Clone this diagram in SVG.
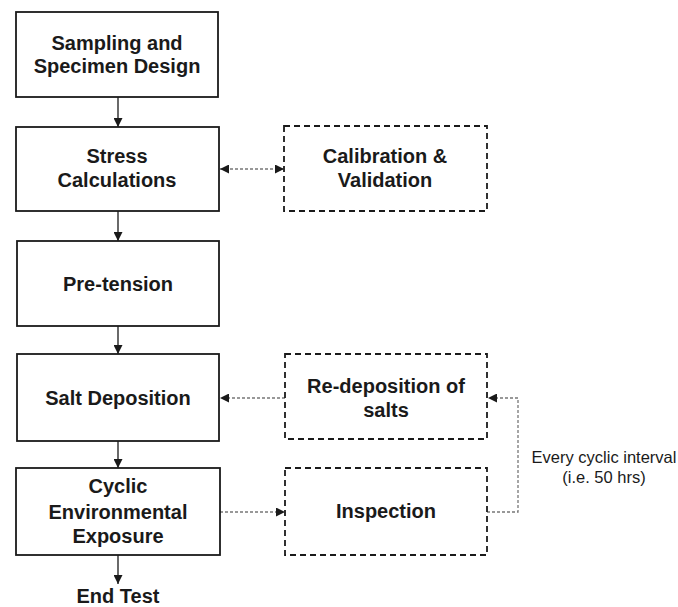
<svg xmlns="http://www.w3.org/2000/svg" width="678" height="607" viewBox="0 0 678 607">
<style>
.box{fill:#fff;stroke:#1a1a1a;stroke-width:1.8}
.dbox{fill:#fff;stroke:#1a1a1a;stroke-width:1.8;stroke-dasharray:6,4}
.t{font-family:"Liberation Sans",Arial,sans-serif;font-weight:bold;font-size:20px;fill:#1a1a1a;text-anchor:middle}
.n{font-family:"Liberation Sans",Arial,sans-serif;font-size:16.5px;fill:#1a1a1a;text-anchor:middle}
.solid{stroke:#1a1a1a;stroke-width:1.3;fill:none}
.dot{stroke:#777;stroke-width:1.3;stroke-dasharray:3,2;fill:none}
</style>
<defs>
<marker id="ah" viewBox="0 0 10 10" refX="10" refY="5" markerWidth="9" markerHeight="9" markerUnits="userSpaceOnUse" orient="auto-start-reverse">
<path d="M0,0 L10,5 L0,10 Z" fill="#1a1a1a"/>
</marker>
</defs>
<rect width="678" height="607" fill="#fff"/>
<g id="connectors">
<line class="solid" x1="118" y1="97" x2="118" y2="127" marker-end="url(#ah)"/>
<line class="solid" x1="118" y1="211" x2="118" y2="241" marker-end="url(#ah)"/>
<line class="solid" x1="118" y1="326" x2="118" y2="354" marker-end="url(#ah)"/>
<line class="solid" x1="118" y1="441" x2="118" y2="468" marker-end="url(#ah)"/>
<line class="solid" x1="118" y1="555" x2="118" y2="584" marker-end="url(#ah)"/>
<line class="dot" x1="220" y1="169" x2="284" y2="169" marker-start="url(#ah)" marker-end="url(#ah)"/>
<line class="dot" x1="285" y1="398" x2="220" y2="398" marker-end="url(#ah)"/>
<line class="dot" x1="220" y1="512" x2="285" y2="512" marker-end="url(#ah)"/>
<polyline class="dot" points="487,512 518,512 518,398 488,398" marker-end="url(#ah)"/>
</g>
<g id="sampling">
<rect class="box" x="16" y="12" width="202" height="85"/>
<text class="t" x="117" y="50">Sampling and</text>
<text class="t" x="117" y="73">Specimen Design</text>
</g>
<g id="stress">
<rect class="box" x="16" y="127" width="203" height="84"/>
<text class="t" x="117" y="163">Stress</text>
<text class="t" x="117" y="187">Calculations</text>
</g>
<g id="calibration">
<rect class="dbox" x="284" y="126" width="203" height="85"/>
<text class="t" x="385" y="163">Calibration &amp;</text>
<text class="t" x="385" y="187">Validation</text>
</g>
<g id="pretension">
<rect class="box" x="17" y="241" width="202" height="85"/>
<text class="t" x="118" y="291">Pre-tension</text>
</g>
<g id="salt">
<rect class="box" x="17" y="354" width="202" height="87"/>
<text class="t" x="118" y="405">Salt Deposition</text>
</g>
<g id="redeposition">
<rect class="dbox" x="285" y="354" width="202" height="85"/>
<text class="t" x="386" y="393">Re-deposition of</text>
<text class="t" x="386" y="417">salts</text>
</g>
<g id="cyclic">
<rect class="box" x="16" y="468" width="204" height="87"/>
<text class="t" x="118" y="493">Cyclic</text>
<text class="t" x="118" y="519">Environmental</text>
<text class="t" x="118" y="543">Exposure</text>
</g>
<g id="inspection">
<rect class="dbox" x="285" y="468" width="202" height="87"/>
<text class="t" x="386" y="518">Inspection</text>
</g>
<g id="endtest">
<text class="t" x="118" y="603">End Test</text>
</g>
<g id="interval-label">
<text class="n" x="604" y="463">Every cyclic interval</text>
<text class="n" x="604" y="483">(i.e. 50 hrs)</text>
</g>
</svg>
